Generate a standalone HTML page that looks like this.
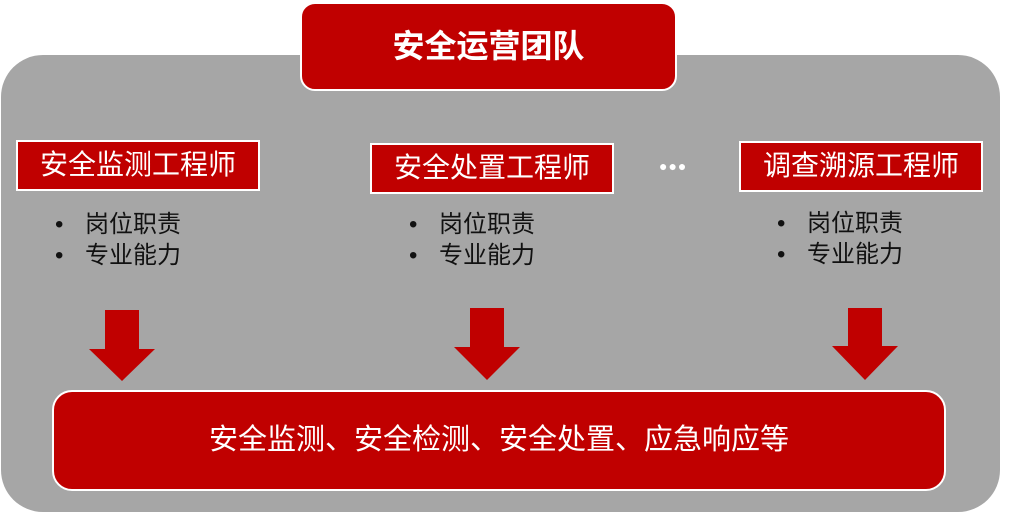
<!DOCTYPE html>
<html><head><meta charset="utf-8"><style>
body{margin:0;width:1009px;height:513px;background:#fff;position:relative;overflow:hidden;font-family:"Liberation Sans","Noto Sans CJK SC",sans-serif}
div{position:absolute;box-sizing:border-box;white-space:nowrap}
.gray{left:1px;top:55px;width:999px;height:457px;background:#a6a6a6;border-radius:42px}
.top{left:300px;top:2px;width:377px;height:89px;background:#c00000;border:2px solid #fff;border-radius:15px;color:#fff;font-size:32px;font-weight:bold;text-align:center;line-height:84px}
.role{height:51px;width:244px;background:#c00000;border:2px solid #fff;color:#fff;font-size:28px;text-align:center;line-height:46px}
.bl{color:#111;font-size:24px;line-height:31px}
.bl span{display:inline-block;width:30px}
.bottom{left:52px;top:390px;width:894px;height:101px;background:#c00000;border:2px solid #fff;border-radius:20px;color:#fff;font-size:29px;text-align:center;line-height:96px}
.dots{left:659px;top:158px;color:#fff;font-size:14px;letter-spacing:1px}
</style></head><body>
<div class="gray"></div>
<div class="top">安全运营团队</div>
<div class="role" style="left:16px;top:140px">安全监测工程师</div>
<div class="role" style="left:370px;top:143px">安全处置工程师</div>
<div class="role" style="left:739px;top:141px">调查溯源工程师</div>
<div class="dots">●●●</div>
<div class="bl" style="left:55px;top:209px"><span>•</span>岗位职责<br><span>•</span>专业能力</div>
<div class="bl" style="left:409px;top:209px"><span>•</span>岗位职责<br><span>•</span>专业能力</div>
<div class="bl" style="left:777px;top:208px"><span>•</span>岗位职责<br><span>•</span>专业能力</div>
<svg style="position:absolute;left:0;top:0" width="1009" height="513">
<polygon points="105,310 139,310 139,349 155,349 122,381 89,349 105,349" fill="#c00000"/>
<polygon points="470,308 504,308 504,347 520,347 487,380 454,347 470,347" fill="#c00000"/>
<polygon points="848,308 882,308 882,346 898,346 865,380 832,346 848,346" fill="#c00000"/>
</svg>
<div class="bottom">安全监测、安全检测、安全处置、应急响应等</div>
</body></html>
